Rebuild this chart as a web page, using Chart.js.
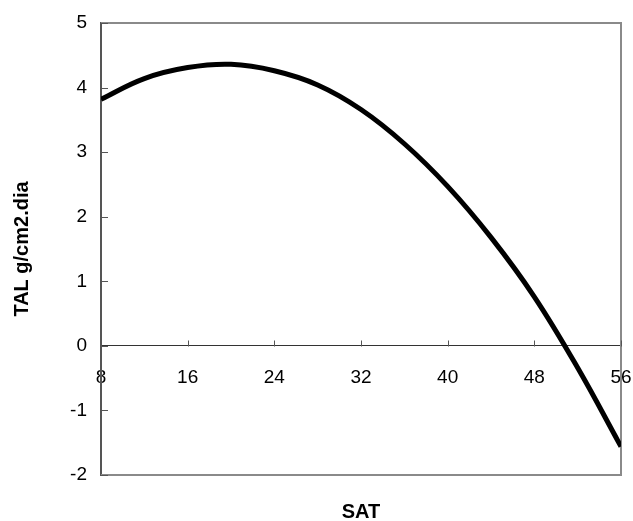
<!DOCTYPE html>
<html>
<head>
<meta charset="utf-8">
<script src="https://cdn.jsdelivr.net/npm/chart.js@4.4.0/dist/chart.umd.min.js"></script>
<style>
  html, body { margin: 0; padding: 0; background: #fff; }
</style>
</head>
<body>
<canvas id="tal-chart" width="633" height="521"></canvas>
<script>
// SAT values along the curve and the matching TAL readings
const satValues = [8, 12, 16, 20, 24, 28, 32, 36, 40, 44, 48, 52, 56];
const talValues = [3.82, 4.14, 4.31, 4.36, 4.26, 4.04, 3.66, 3.13, 2.47, 1.68, 0.76, -0.34, -1.56];

// Tick labels for both axes
const satTicks = [8, 16, 24, 32, 40, 48, 56];
const talTicks = [-2, -1, 0, 1, 2, 3, 4, 5];

const FONT = "'Liberation Sans', Arial, sans-serif";

// Gray frame around the plot plus short inward tick marks on both axes
const frameTicks = {
  id: "frameTicks",
  beforeDatasetsDraw(chart) {
    const { ctx, chartArea: a, scales } = chart;
    ctx.save();
    ctx.strokeStyle = "#8a8a8a";
    ctx.lineWidth = 2;
    ctx.beginPath();
    ctx.moveTo(a.left, a.top);
    ctx.lineTo(a.right, a.top);
    ctx.lineTo(a.right, a.bottom);
    ctx.lineTo(a.left, a.bottom);
    ctx.stroke();

    ctx.strokeStyle = "#555";
    ctx.lineWidth = 1;
    const zeroY = Math.round(scales.y.getPixelForValue(0)) + 0.5;
    ctx.beginPath();
    satTicks.forEach((v) => {
      const x = Math.round(scales.x.getPixelForValue(v)) + 0.5;
      ctx.moveTo(x, zeroY);
      ctx.lineTo(x, zeroY - 6);
    });
    talTicks.forEach((v) => {
      const y = Math.round(scales.y.getPixelForValue(v)) + 0.5;
      ctx.moveTo(a.left, y);
      ctx.lineTo(a.left + 7, y);
    });
    ctx.stroke();
    ctx.restore();
  },
};

const noSidePadding = (scale) => {
  scale.paddingLeft = 0;
  scale.paddingRight = 0;
};

const ctx = document.getElementById("tal-chart").getContext("2d");
new Chart(ctx, {
  type: "line",
  data: {
    datasets: [
      {
        data: satValues.map((x, i) => ({ x: x, y: talValues[i] })),
        borderColor: "#000",
        borderWidth: 5,
        pointRadius: 0,
        tension: 0.4,
        fill: false,
      },
    ],
  },
  options: {
    responsive: false,
    animation: false,
    layout: { padding: { left: 0, top: 23, right: 12, bottom: 0 } },
    plugins: { legend: { display: false }, tooltip: { enabled: false } },
    scales: {
      x: {
        type: "linear",
        position: { y: 0 },
        min: 8,
        max: 56,
        afterFit: noSidePadding,
        afterBuildTicks: (scale) => {
          scale.ticks = satTicks.map((v) => ({ value: v }));
        },
        grid: { display: false, drawTicks: false },
        border: { display: true, color: "#333", width: 1 },
        ticks: {
          color: "#000",
          padding: 21,
          maxRotation: 0,
          autoSkip: false,
          font: { family: FONT, size: 19 },
        },
      },
      x2: {
        type: "linear",
        position: "bottom",
        min: 8,
        max: 56,
        afterFit: (scale) => {
          noSidePadding(scale);
          scale.height = 46;
        },
        grid: { display: false, drawTicks: false },
        border: { display: false },
        ticks: { display: false },
        title: {
          display: true,
          text: "SAT",
          color: "#000",
          padding: { top: 0, bottom: -3 },
          font: { family: FONT, size: 20, weight: "bold" },
        },
      },
      y: {
        type: "linear",
        min: -2,
        max: 5,
        afterFit: (scale) => {
          scale.width = 101;
          scale.paddingTop = 0;
          scale.paddingBottom = 0;
        },
        afterBuildTicks: (scale) => {
          scale.ticks = talTicks.map((v) => ({ value: v }));
        },
        grid: { display: false, drawTicks: false },
        border: { display: true, color: "#555", width: 2 },
        ticks: {
          color: "#000",
          padding: 14,
          font: { family: FONT, size: 19 },
        },
        title: {
          display: true,
          text: "TAL g/cm2.dia",
          color: "#000",
          padding: { top: 10, bottom: 0 },
          font: { family: FONT, size: 20, weight: "bold" },
        },
      },
    },
  },
  plugins: [frameTicks],
});
</script>
</body>
</html>
